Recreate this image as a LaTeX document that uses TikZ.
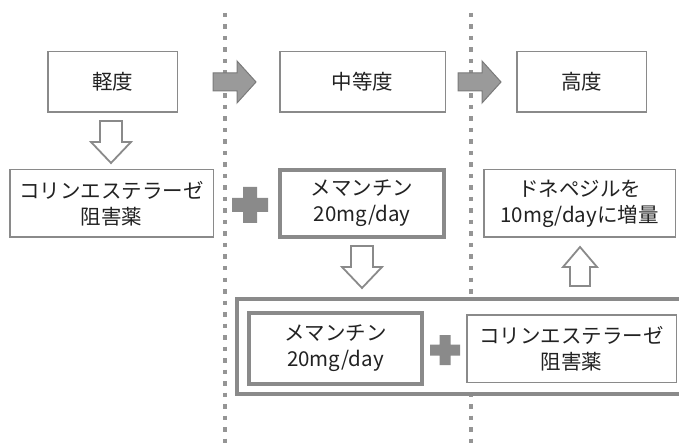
\documentclass[tikz,border=0pt]{standalone}
\usepackage{fontspec}
\setmainfont{Noto Sans CJK JP}
\usetikzlibrary{calc}
\definecolor{ln}{HTML}{8A8A8A}
\definecolor{dotc}{HTML}{959595}
\definecolor{txt}{HTML}{222222}
\definecolor{af}{HTML}{9A9A9A}
\definecolor{ad}{HTML}{7A7A7A}
\tikzset{
  box/.style={draw=ln, line width=1.5pt, fill=white, text=txt, align=center,
    font=\fontsize{20.5}{26}\selectfont, inner sep=0pt},
  thickbox/.style={box, line width=4pt},
  dotline/.style={draw=dotc, line width=4pt, dash pattern=on 4.5pt off 7pt},
  hollow/.style={draw=ln, line width=1.8pt, fill=white, line join=miter},
  solidarr/.style={draw=ad, line width=1pt, fill=af, line join=miter},
  plusfill/.style={fill=ln, draw=none},
  rarr/.pic={\path[solidarr] (-21.5,-9) -- (2.5,-9) -- (2.5,-21) -- (21.5,0) -- (2.5,21) -- (2.5,9) -- (-21.5,9) -- cycle;},
  darr/.pic={\path[hollow] (-11,-21) -- (11,-21) -- (11,0) -- (20,0) -- (0,21) -- (-20,0) -- (-11,0) -- cycle;},
  uarr/.pic={\path[hollow] (-10,19) -- (10,19) -- (10,0) -- (17,0) -- (0,-20) -- (-17,0) -- (-10,0) -- cycle;},
  bigplus/.pic={\path[plusfill] (-7,-18) -- (7,-18) -- (7,-7) -- (18,-7) -- (18,7) -- (7,7) -- (7,18) -- (-7,18) -- (-7,7) -- (-18,7) -- (-18,-7) -- (-7,-7) -- cycle;},
  smallplus/.pic={\path[plusfill] (-5.5,-15) -- (5.5,-15) -- (5.5,-5.5) -- (15,-5.5) -- (15,5.5) -- (5.5,5.5) -- (5.5,15) -- (-5.5,15) -- (-5.5,5.5) -- (-15,5.5) -- (-15,-5.5) -- (-5.5,-5.5) -- cycle;}
}
\begin{document}
\begin{tikzpicture}[x=1pt,y=-1pt]
\useasboundingbox (0,0) rectangle (679,443);
\clip (0,0) rectangle (679,443);
% stage separators
\coordinate (s1top) at (225,13);
\coordinate (s1bot) at (225,445);
\coordinate (s2top) at (471,13);
\coordinate (s2bot) at (471,445);
\draw[dotline] (s1top) -- (s1bot);
\draw[dotline] (s2top) -- (s2bot);
% stage boxes
\node[box, minimum width=129.5pt, minimum height=60.5pt] (light) at (112.5,82) {軽度};
\node[box, minimum width=165.5pt, minimum height=60.5pt] (mid) at (362.5,82) {中等度};
\node[box, minimum width=129.5pt, minimum height=60.5pt] (high) at (581.5,82) {高度};
% second row
\node[box, minimum width=203.5pt, minimum height=67.5pt] (che1) at (111.5,203.5) {コリンエステラーゼ\\阻害薬};
\node[thickbox, minimum width=164pt, minimum height=67pt] (mem1) at (362,203.5) {メマンチン\\20mg/day};
\node[box, minimum width=191.5pt, minimum height=67.5pt] (done) at (579.5,203.5) {ドネペジルを\\10mg/dayに増量};
% combination frame
\node[thickbox, minimum width=483pt, minimum height=95pt] (combo) at (478.5,346.5) {};
\node[thickbox, minimum width=173pt, minimum height=71pt] (mem2) at (335.5,348.5) {メマンチン\\20mg/day};
\node[box, minimum width=209.5pt, minimum height=67.5pt] (che2) at (571.5,348.5) {コリンエステラーゼ\\阻害薬};
% arrows
\pic at (234.5,82) {rarr};
\pic at (479.5,82) {rarr};
\pic at (111,142) {darr};
\pic at (362,267) {darr};
\pic at (580,267) {uarr};
% plus signs
\pic at (250,205) {bigplus};
\pic at (445,350) {smallplus};
\end{tikzpicture}
\end{document}
